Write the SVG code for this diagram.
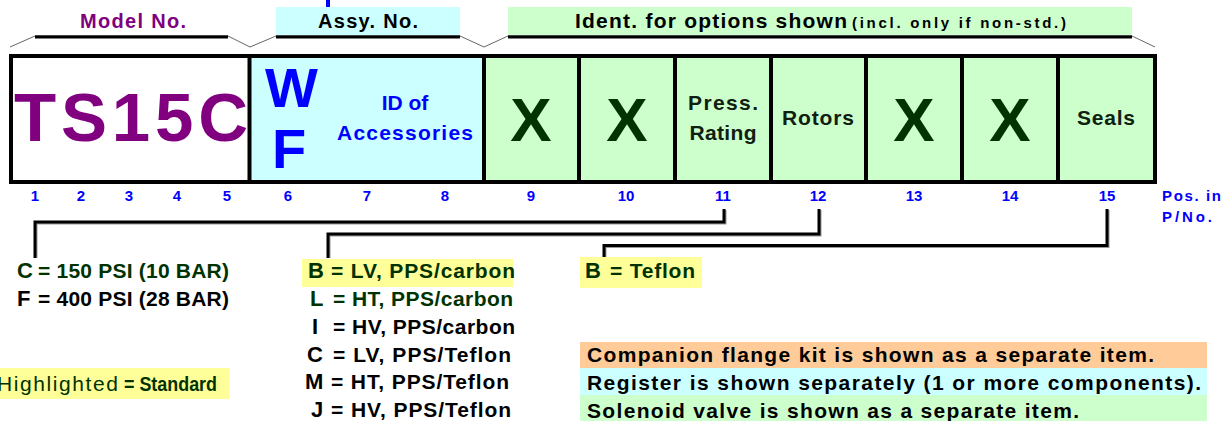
<svg xmlns="http://www.w3.org/2000/svg" width="1222" height="421" viewBox="0 0 1222 421">
<style>
text{font-family:"Liberation Sans",Arial,sans-serif;font-weight:bold}
.pur{fill:#800080}
.blu{fill:#0000FF}
.dg{fill:#003300}
.bk{fill:#000}
.tx{fill:#102010}
.cell{stroke:#000;stroke-width:4}
.brk{stroke:#000;stroke-width:3;fill:none}
.slope{stroke:#666;stroke-width:1;fill:none}
.con{stroke:#000;stroke-width:3;fill:none}
.sh{stroke:#999;stroke-width:2;fill:none}
.num{font-size:15px;fill:#0000FF;text-anchor:middle}
.big{font-size:62px;fill:#003300;text-anchor:middle}
.lbl{font-size:21px;text-anchor:middle}
.opt{font-size:21px}
.code{font-size:22px}
</style>

<g id="header">
  <line x1="328" y1="0" x2="328" y2="9" stroke="#0000FF" stroke-width="4"/>
  <rect x="276" y="7" width="184" height="29" fill="#CCFFFF"/>
  <rect x="508" y="7" width="624" height="29" fill="#CCFFCC"/>
  <text x="133" y="28" class="pur" font-size="20" text-anchor="middle" textLength="106" lengthAdjust="spacing">Model No.</text>
  <text x="368" y="28" class="bk" font-size="20" text-anchor="middle" textLength="100" lengthAdjust="spacing">Assy. No.</text>
  <text x="575" y="28" class="bk" font-size="21" textLength="272" lengthAdjust="spacing">Ident. for options shown</text>
  <text x="852" y="28" class="bk" font-size="15" textLength="214" lengthAdjust="spacing">(incl. only if non-std.)</text>
  <line x1="35" y1="35.5" x2="228" y2="35.5" stroke="#888" stroke-width="1"/>
  <line x1="276" y1="35.5" x2="460" y2="35.5" stroke="#888" stroke-width="1"/>
  <line x1="508" y1="35.5" x2="1132" y2="35.5" stroke="#888" stroke-width="1"/>
  <path class="brk" d="M35 37H228M276 37H460M508 37H1132"/>
  <path class="slope" d="M10 47L35 36M228 36L250 47L276 36M460 36L484 47L508 36M1132 36L1155 47"/>
</g>

<g id="code-box">
  <rect x="11" y="56" width="238" height="126" fill="#FFFFFF"/>
  <rect x="249" y="56" width="235" height="126" fill="#CCFFFF"/>
  <rect x="484" y="56" width="671" height="126" fill="#CCFFCC"/>
  <g class="cell">
    <line x1="249.5" y1="56" x2="249.5" y2="182"/>
    <line x1="484" y1="56" x2="484" y2="182"/>
    <line x1="579" y1="56" x2="579" y2="182"/>
    <line x1="675" y1="56" x2="675" y2="182"/>
    <line x1="771" y1="56" x2="771" y2="182"/>
    <line x1="866" y1="56" x2="866" y2="182"/>
    <line x1="962" y1="56" x2="962" y2="182"/>
    <line x1="1058" y1="56" x2="1058" y2="182"/>
    <rect x="11" y="56" width="1144" height="126" fill="none"/>
  </g>
</g>

<g id="model"><text x="14" y="141" class="pur" font-size="69" textLength="234" lengthAdjust="spacing">TS15C</text></g>
<g id="assy">
  <text x="265" y="107" class="blu" font-size="56">W</text>
  <text x="272" y="168" class="blu" font-size="56">F</text>
  <text x="405" y="110" class="blu lbl">ID of</text>
  <text x="405" y="140" class="blu lbl" textLength="136" lengthAdjust="spacing">Accessories</text>
</g>
<g id="pos9"><text x="531" y="141" class="big">X</text></g>
<g id="pos10"><text x="627" y="141" class="big">X</text></g>
<g id="pos11"><text x="723" y="110" class="tx lbl" textLength="70" lengthAdjust="spacing">Press.</text><text x="723" y="140" class="tx lbl" textLength="67" lengthAdjust="spacing">Rating</text></g>
<g id="pos12"><text x="818" y="125" class="tx lbl" textLength="72" lengthAdjust="spacing">Rotors</text></g>
<g id="pos13"><text x="914" y="141" class="big">X</text></g>
<g id="pos14"><text x="1010" y="141" class="big">X</text></g>
<g id="pos15"><text x="1106" y="125" class="tx lbl" textLength="58" lengthAdjust="spacing">Seals</text></g>

<g id="positions">
  <text x="35" y="201" class="num">1</text>
  <text x="81" y="201" class="num">2</text>
  <text x="129" y="201" class="num">3</text>
  <text x="177" y="201" class="num">4</text>
  <text x="227" y="201" class="num">5</text>
  <text x="288" y="201" class="num">6</text>
  <text x="367" y="201" class="num">7</text>
  <text x="445" y="201" class="num">8</text>
  <text x="531" y="201" class="num">9</text>
  <text x="626" y="201" class="num">10</text>
  <text x="723" y="201" class="num">11</text>
  <text x="818" y="201" class="num">12</text>
  <text x="914" y="201" class="num">13</text>
  <text x="1010" y="201" class="num">14</text>
  <text x="1107" y="201" class="num">15</text>
  <text x="1162" y="201" class="blu" font-size="15" textLength="59" lengthAdjust="spacing">Pos. in</text>
  <text x="1162" y="222" class="blu" font-size="15" textLength="50" lengthAdjust="spacing">P/No.</text>
</g>

<g id="connectors">
  <path class="sh" d="M725.5 210V223.5H36.5V258M820.5 210V235.5H329.5V258M1108.5 210V247H605.5V258"/>
  <path class="con" d="M724 209V222H35V258M819 209V234H328V258M1107 209V245.5H604V258"/>
</g>

<g id="press-options">
  <text x="17" y="278" class="dg code">C</text>
  <text x="38" y="278" class="dg opt" textLength="191" lengthAdjust="spacing">= 150 PSI (10 BAR)</text>
  <text x="17" y="306" class="bk code">F</text>
  <text x="38" y="306" class="bk opt" textLength="191" lengthAdjust="spacing">= 400 PSI (28 BAR)</text>
</g>

<g id="rotor-options">
  <rect x="302" y="259" width="211" height="28" fill="#FFFF99"/>
  <text x="308" y="278" class="dg code">B</text>
  <text x="331" y="278" class="dg opt" textLength="184" lengthAdjust="spacing">= LV, PPS/carbon</text>
  <text x="310" y="306" class="dg code">L</text>
  <text x="333" y="306" class="dg opt" textLength="180" lengthAdjust="spacing">= HT, PPS/carbon</text>
  <text x="312" y="334" class="bk code">I</text>
  <text x="333" y="334" class="bk opt" textLength="182" lengthAdjust="spacing">= HV, PPS/carbon</text>
  <text x="307" y="362" class="bk code">C</text>
  <text x="333" y="362" class="bk opt" textLength="178" lengthAdjust="spacing">= LV, PPS/Teflon</text>
  <text x="305" y="389" class="bk code">M</text>
  <text x="331" y="389" class="bk opt" textLength="178" lengthAdjust="spacing">= HT, PPS/Teflon</text>
  <text x="311" y="417" class="bk code">J</text>
  <text x="331" y="417" class="bk opt" textLength="180" lengthAdjust="spacing">= HV, PPS/Teflon</text>
</g>

<g id="seal-options">
  <rect x="580" y="257" width="122" height="31" fill="#FFFF99"/>
  <text x="585" y="278" class="dg code">B</text>
  <text x="610" y="278" class="dg opt" textLength="85" lengthAdjust="spacing">= Teflon</text>
</g>

<g id="legend">
  <rect x="0" y="368" width="229" height="31" fill="#FFFF99"/>
  <text x="-3" y="391" class="dg" font-size="21" style="font-weight:normal" textLength="121" lengthAdjust="spacing">Highlighted</text>
  <text x="124" y="391" class="dg" font-size="21" textLength="93" lengthAdjust="spacingAndGlyphs">= Standard</text>
</g>

<g id="notes">
  <rect x="580" y="342" width="627" height="26" fill="#FFCC99"/>
  <rect x="580" y="368" width="627" height="27" fill="#CCFFFF"/>
  <rect x="580" y="395" width="627" height="26" fill="#CCFFCC"/>
  <text x="587" y="362" class="bk opt" textLength="567" lengthAdjust="spacing">Companion flange kit is shown as a separate item.</text>
  <text x="587" y="390" class="bk opt" textLength="614" lengthAdjust="spacing">Register is shown separately (1 or more components).</text>
  <text x="587" y="418" class="bk opt" textLength="492" lengthAdjust="spacing">Solenoid valve is shown as a separate item.</text>
</g>
</svg>
